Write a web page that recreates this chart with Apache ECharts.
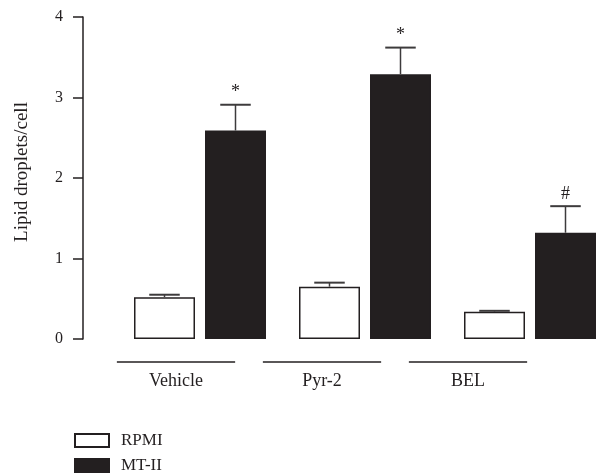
<!DOCTYPE html>
<html>
<head>
<meta charset="utf-8">
<script src="https://cdn.jsdelivr.net/npm/echarts@6/dist/echarts.min.js"></script>
<style>
  html, body { margin: 0; padding: 0; background: #fff; }
  #chart { width: 599px; height: 476px; }
</style>
</head>
<body>
<div id="chart"></div>
<script>
// data
var groups = ['Vehicle', 'Pyr-2', 'BEL'];
var seriesNames = ['RPMI', 'MT-II'];
var rpmiMean = [0.52, 0.65, 0.34];
var rpmiErr = [0.03, 0.05, 0.01];
var mtMean = [2.59, 3.29, 1.32];
var mtErr = [0.32, 0.33, 0.33];
var mtMarks = ['*', '*', '#'];
var yTicks = [0, 1, 2, 3, 4];

var FONT = '"Liberation Serif", "Times New Roman", serif';
var INK = '#231f20';
var BAR_W = 61;
var BAR_GAP = 10;

// error bar points: [category, mean, err, series]
var errData = [];
for (var i = 0; i < groups.length; i++) {
    errData.push([i, rpmiMean[i], rpmiErr[i], 0]);
    errData.push([i, mtMean[i], mtErr[i], 1]);
}

function renderErr(params, api) {
    var i = api.value(0), m = api.value(1), e = api.value(2), s = api.value(3);
    var off = (s === 0 ? -1 : 1) * (BAR_W + BAR_GAP) / 2;
    var base = api.coord([i, m]);
    var top = api.coord([i, m + e]);
    var x = base[0] + off;
    var half = BAR_W / 4;
    var children = [
        { type: 'line', shape: { x1: x, y1: base[1], x2: x, y2: top[1] },
          style: { stroke: '#3d3b3c', lineWidth: 1.5 } },
        { type: 'line', shape: { x1: x - half, y1: top[1], x2: x + half, y2: top[1] },
          style: { stroke: '#3d3b3c', lineWidth: 2 } }
    ];
    if (s === 1 && mtMarks[i]) {
        children.push({ type: 'text', x: x, y: top[1] - 3,
            style: { text: mtMarks[i], fill: INK, font: '18px ' + FONT,
                     align: 'center', verticalAlign: 'bottom' } });
    }
    return { type: 'group', children: children };
}

// line under each group label
function renderGroupLine(params, api) {
    var p = api.coord([api.value(0), 0]);
    var w = api.size([1, 0])[0] * 0.81;
    return { type: 'line', shape: { x1: p[0] - w / 2, y1: p[1], x2: p[0] + w / 2, y2: p[1] },
             style: { stroke: INK, lineWidth: 1.5 } };
}

function legendAt(name, top) {
    return {
        data: [name],
        orient: 'vertical',
        left: 74,
        top: top,
        padding: 0,
        itemWidth: 34,
        itemHeight: 13,
        textStyle: { fontFamily: FONT, fontSize: 17, color: INK, padding: [0, 0, 0, 7] },
        icon: 'rect'
    };
}

var myChart = echarts.init(document.getElementById('chart'));
myChart.setOption({
    animation: false,
    textStyle: { fontFamily: FONT },
    legend: [legendAt(seriesNames[0], 432), legendAt(seriesNames[1], 457)],
    grid: [
        { left: 117.5, top: 17, width: 495, height: 322, outerBoundsMode: 'none' },
        { left: 103, top: 361, width: 438, height: 1, outerBoundsMode: 'none' }
    ],
    xAxis: [
        {
            type: 'category', gridIndex: 0, data: groups,
            axisLine: { show: false }, axisTick: { show: false }, axisLabel: { show: false }
        },
        {
            type: 'category', gridIndex: 1, data: groups,
            axisLine: { show: false }, axisTick: { show: false },
            axisLabel: { margin: 10, fontFamily: FONT, fontSize: 18, color: INK }
        }
    ],
    yAxis: [
        {
            type: 'value', gridIndex: 0,
            min: yTicks[0], max: yTicks[yTicks.length - 1], interval: 1,
            offset: 34.5,
            name: 'Lipid droplets/cell',
            nameLocation: 'middle',
            nameGap: 51,
            nameTextStyle: { fontFamily: FONT, fontSize: 19, color: INK, padding: [0, 0, 0, 12] },
            axisLine: { show: true, lineStyle: { color: INK, width: 1.5 } },
            axisTick: { show: true, length: 10, lineStyle: { color: INK, width: 1.5 } },
            axisLabel: { margin: 20, fontFamily: FONT, fontSize: 16, color: INK },
            splitLine: { show: false }
        },
        { type: 'value', gridIndex: 1, min: 0, max: 1, show: false }
    ],
    series: [
        {
            name: seriesNames[0], type: 'bar', xAxisIndex: 0, yAxisIndex: 0,
            data: rpmiMean, barWidth: BAR_W, barGap: (BAR_GAP / BAR_W * 100) + '%',
            itemStyle: { color: '#fff', borderColor: INK, borderWidth: 1.5 }
        },
        {
            name: seriesNames[1], type: 'bar', xAxisIndex: 0, yAxisIndex: 0,
            data: mtMean, barWidth: BAR_W,
            itemStyle: { color: INK, borderColor: INK, borderWidth: 1.5 }
        },
        {
            name: 'err', type: 'custom', xAxisIndex: 0, yAxisIndex: 0,
            data: errData, renderItem: renderErr, z: 5
        },
        {
            name: 'groupLine', type: 'custom', xAxisIndex: 1, yAxisIndex: 1,
            data: groups.map(function (g, i) { return [i]; }), renderItem: renderGroupLine
        }
    ]
});
</script>
</body>
</html>
